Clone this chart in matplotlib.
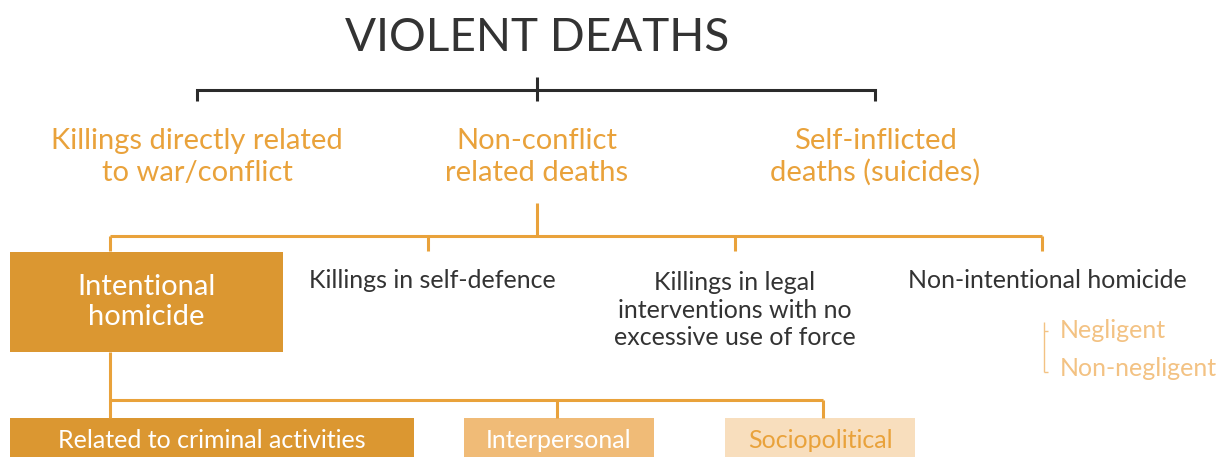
import matplotlib
matplotlib.use("Agg")
import matplotlib.pyplot as plt
from matplotlib.patches import Rectangle

# ---- content ----
title = "VIOLENT DEATHS"
level1_labels = ["Killings directly related\nto war/conflict",
                 "Non-conflict\nrelated deaths",
                 "Self-inflicted\ndeaths (suicides)"]
level2_labels = ["Intentional\nhomicide",
                 "Killings in self-defence",
                 "Killings in legal\ninterventions with no\nexcessive use of force",
                 "Non-intentional homicide"]
sub_labels = ["Negligent", "Non-negligent"]
level3_labels = ["Related to criminal activities", "Interpersonal", "Sociopolitical"]

# ---- style ----
FONT = ["Lato", "DejaVu Sans"]
ORANGE = "#E9A23B"
DARK_BOX = "#DB9731"
MID_BOX = "#F0BB77"
LIGHT_BOX = "#F8DEBD"
LIGHT_TXT = "#F3C283"
DARK_TXT = "#333333"
LINE_DARK = "#2b2b2b"
LW = 2.2

W, H = 1222, 457
fig = plt.figure(figsize=(W / 100, H / 100), dpi=100)
ax = fig.add_axes([0, 0, 1, 1])
ax.set_xlim(0, W)
ax.set_ylim(H, 0)
ax.axis("off")

def line(xs, ys, color, lw=LW):
    ax.plot(xs, ys, color=color, lw=lw, solid_capstyle="butt", solid_joinstyle="miter")

def txt(x, y, s, size, color, ha="center", weight="normal", ls=1.2):
    ax.text(x, y, s, ha=ha, va="center", fontsize=size, color=color,
            family=FONT, weight=weight, linespacing=ls)

# title
txt(537, 38, title, 33, DARK_TXT)

# black bracket
l1_x = [197, 537, 875]
line([l1_x[0], l1_x[0], l1_x[2], l1_x[2]], [101, 90, 90, 101], LINE_DARK)
line([l1_x[1], l1_x[1]], [77, 101], LINE_DARK)

# level 1 labels
for x, s in zip(l1_x, level1_labels):
    txt(x, 157, s, 21, ORANGE, ls=1.25)

# orange connectors level 2
l2_x = [110, 428, 735, 1042]
line([537, 537], [203, 236], ORANGE)
line([l2_x[0], l2_x[-1]], [236, 236], ORANGE)
for x in l2_x:
    line([x, x], [236, 251], ORANGE)

# intentional homicide box
ax.add_patch(Rectangle((10, 252), 273, 100, facecolor=DARK_BOX, edgecolor="none"))
txt(146, 302, level2_labels[0], 21, "white", ls=1.2)
txt(432, 280, level2_labels[1], 18, DARK_TXT)
txt(735, 310, level2_labels[2], 18, DARK_TXT, ls=1.25)
txt(1047, 281, level2_labels[3], 18, DARK_TXT)

# sub bracket
line([1044, 1044], [322, 372], LIGHT_TXT, lw=1.0)
line([1044, 1048], [331, 331], LIGHT_TXT, lw=1.0)
line([1044, 1048], [371.5, 371.5], LIGHT_TXT, lw=1.0)
txt(1060, 330, sub_labels[0], 18, LIGHT_TXT, ha="left")
txt(1060, 368, sub_labels[1], 18, LIGHT_TXT, ha="left")

# level 3 connectors
l3_x = [110, 557, 823]
line([110, 110], [352, 418], ORANGE)
line([110, 823], [400, 400], ORANGE)
for x in l3_x[1:]:
    line([x, x], [400, 418], ORANGE)

boxes = [(10, 414, DARK_BOX, "white"), (464, 654, MID_BOX, "white"), (725, 915, LIGHT_BOX, ORANGE)]
for (x0, x1, fc, tc), s in zip(boxes, level3_labels):
    ax.add_patch(Rectangle((x0, 418), x1 - x0, 60, facecolor=fc, edgecolor="none"))
    txt((x0 + x1) / 2, 441, s, 18, tc)

fig.savefig("out.png", dpi=100)
